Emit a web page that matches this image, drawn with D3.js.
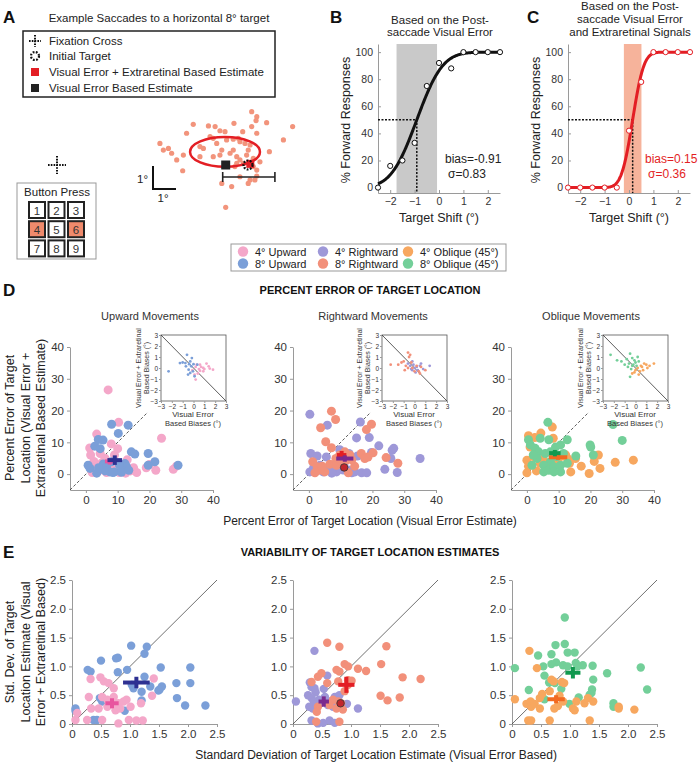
<!DOCTYPE html>
<html><head><meta charset="utf-8">
<script src="https://cdn.jsdelivr.net/npm/d3@7"></script>
<style>body{margin:0;background:#fff} svg{display:block;font-family:Arial,"Liberation Sans",sans-serif}</style>
</head><body><svg id="c" width="699" height="762"></svg>
<script>
// ---------------- DATA ----------------
// Panel A: example saccade end points (degrees relative to the 8° target)
const saccadeX = [0.16,0.38,0.35,0.81,1.94,-2.38,-1.72,-1.43,-0.61,0.16,-1.22,-1.0,-2.67,-0.23,0.38,1.54,-3.83,-3.46,-3.68,-3.32,-3.1,-2.81,-2.84,-2.09,-1.94,-1.65,-1.51,-1.36,-1.14,-0.93,-0.64,-0.42,-0.35,-0.13,0.09,0.01,-0.64,-0.78,-0.49,-0.35,-0.2,0.23,-0.06,0.52,0.93,-0.35,0.09,0.3,0.38,-1.14,-0.71,0.01,-0.97,-2.09,-1.51,-1.22,-0.49,-0.57,0.23,0.38];
const saccadeY = [2.32,2.1,1.93,1.84,1.67,1.77,1.7,1.67,1.81,1.67,1.49,1.45,1.38,1.45,1.38,1.09,0.94,0.72,0.65,0.51,0.22,0.43,-0.25,0.8,0.72,1.23,1.16,0.94,0.65,1.09,1.12,1.16,1.01,0.94,0.87,0.65,0.65,0.51,0.36,0.22,0.07,0.29,0.43,0.14,0.58,-0.51,-0.65,-0.65,-0.48,-0.8,-0.94,-0.8,-1.84,0.36,0.36,0.43,0.07,-0.07,-0.07,-0.22];
const visualEstimate = [-0.97, 0];
const combinedEstimate = [0.1, 0.05];
const ellipseA = {cx:-1.0, cy:0.57, rx:1.52, ry:0.65};
const bracketA = [-1.1, 1.17];
const buttons = ["1","2","3","4","5","6","7","8","9"];
const pressedButtons = ["4","6"];

// Panels B & C: psychometric data
const targetShift = [-2.5,-2,-1.5,-1,-0.5,0,0.5,1,1.5,2,2.5];
const fwdVisual   = [0,16,20,33,75,92,88,100,100,100,100];
const fwdCombined = [0,0,0,0,0,42,78,100,100,100,100];
const fitVisual   = {bias:-0.91, sigma:0.83};
const fitCombined = {bias:0.15, sigma:0.36};
const shiftTicks = [-2,-1,0,1,2];
const pctTicks = [0,20,40,60,80,100];

// Legend
const legendNames = ["4° Upward","8° Upward","4° Rightward","8° Rightward","4° Oblique (45°)","8° Oblique (45°)"];
const legendColors = ["#f4a7c9","#7b9fd8","#9e98d8","#f2907a","#f7a75f","#73cf99"];

// Panel D: percent error (x: visual error estimate, y: visual+extraretinal)
const dUp4 = [[7,26.5],[10.3,16.3],[3.4,12.6],[23.8,11.3],[1.2,8.2],[1.5,6],[2.5,4],[3,2.5],[4,1],[5,3.5],[6,5],[7.5,2],[8,9.5],[9,6],[9.5,1.5],[10.5,0.5],[11,3],[12,2],[13,4.5],[14,1],[15,2],[16,0.5],[19,2],[20,3],[22,1.2],[27.5,1.5],[28.5,2.5],[2,0.5],[4.5,6.5],[10,8],[6.5,0.5],[12.5,0.3]];
const dUp8 = [[8.1,15.7],[13.3,15.4],[10.2,12.8],[3.9,10.9],[5.4,10.7],[2.8,8.8],[4.5,8],[14.3,7],[15.4,6.3],[19.6,6.5],[21.7,3.9],[19.6,2.8],[29,2.8],[0.7,2.8],[1.3,1.8],[3.4,0.3],[5.5,3.2],[6.5,2.2],[8,3.9],[9,0.7],[11.2,1.2],[12.3,3.3],[12.8,2.3],[11.2,0.6],[7.5,0.7],[6,1],[4,2],[10.5,3],[13.5,1.2],[8.5,0.5]];
const dRight4 = [[0.3,18.8],[5.8,15.4],[16.2,16.4],[15,11.4],[19,11.5],[22,8.9],[0.6,6.5],[2.6,5.7],[5.5,5.4],[9.7,7.7],[15.3,5.7],[19.7,6.8],[26.2,7.5],[26.7,8.1],[25.8,4.9],[35,4.9],[23.9,1.5],[27.8,0.5],[0.3,0.7],[1.4,1.8],[2.9,1.3],[4.5,0.7],[6.1,1.3],[6.6,2.3],[8.7,0.7],[10.8,1.3],[12.4,1.3],[13.5,0.4],[14.5,0.7],[16.6,0.4],[18.2,0.4],[11.3,3.9],[12.6,6.5],[9.7,1.8],[7.2,0.3],[3.5,2.8]];
const dRight8 = [[7.1,19.8],[8.4,17.2],[3.7,14.6],[18.1,14],[19.7,15.7],[5.3,10.2],[7.1,8.3],[1.2,3.9],[2.6,2.3],[3.5,1.3],[1.9,0.4],[5,0.7],[6.6,3.1],[8.5,4.9],[9.7,6],[10.8,5.4],[11.8,4.4],[12.9,6],[14.4,2.5],[12.4,0.4],[16.5,6.5],[17.6,4.9],[18.6,5.4],[20.2,6.7],[24.3,5.2],[28,3.4],[8.7,2.8],[10.2,3.9],[11.3,7],[4.2,2.5],[13.5,4.5]];
const dObl4 = [[0.5,12.1],[4.4,12.9],[8,14.8],[1,8.5],[8.3,11.3],[0,4.4],[0.5,2.5],[0,0.4],[2.1,5.5],[4.2,3.4],[5.1,4.7],[10.6,5.5],[12.7,5],[13.4,3.4],[13.8,0.7],[15.3,4.9],[17.1,2.5],[19.6,0.2],[21.2,4],[22.5,6],[23,1.8],[27.8,3.7],[33.5,4.4],[6.3,2.8],[12.2,6],[3,1],[9.5,3.9],[2.5,11.5]];
const dObl8 = [[6.6,16.3],[27.1,15.6],[30,10.6],[12.7,10.8],[4.2,11.3],[6.9,10.8],[19.9,9.2],[20.1,8.5],[20.9,6],[15.4,5.7],[0.5,10.8],[1.1,9.2],[2.6,8.1],[3.7,7],[5.8,6.5],[7.4,7],[9,8.5],[10.6,9.2],[9.5,5.5],[7.4,3.9],[5.3,2.8],[5.3,0.7],[6.9,1.2],[8.5,2.3],[10.6,2.8],[12.7,3.4],[10.6,0.7],[8.5,0.7],[1.6,2.8],[3.2,4.9],[2,6],[11.5,6.5]];
// means: [x, y, xErr, yErr]
const dUpMeans = [[7.5,4.0,1.5,1.0],[9.1,4.4,2.3,1.5]];
const dRightMeans = [[10.3,6.0,1.5,1.3],[11.3,4.9,2.7,1.0]];
const dOblMeans = [[9.8,5.3,2.9,0.8],[8.8,6.6,1.8,1.0]];
const dExample = [11.1, 2.1];

// Insets: biases (°)
const inUp4 = [[0.9,0],[1.4,0.15],[1.8,-0.15],[0.2,-1.05],[0.6,0.3],[0.5,-0.1],[0.9,-0.3],[1.2,0.4],[0.2,0.1],[0.4,-0.5],[-0.1,-0.2],[0.7,0.1],[1.0,-0.1],[0.3,0.3],[0.1,-0.6],[1.5,-0.05],[0.6,-0.25]];
const inUp8 = [[-2.3,-0.3],[-1.25,0.45],[-0.6,1.2],[-0.3,0.6],[-0.7,0.15],[-0.2,0.15],[-0.05,-0.3],[-0.3,-0.45],[0.1,-0.75],[-0.45,-0.15],[-0.75,0.45],[0.35,0.3],[-1.0,0.5],[-0.15,0.9],[-0.5,-0.6],[0.0,0.35],[-0.4,0.35]];
const inRight4 = [[0.5,0.2],[1.4,0.2],[0.2,0.1],[-0.2,-0.2],[0.1,-0.4],[-0.4,0.2],[0.8,-0.1],[-0.1,0.3],[-0.3,-0.1],[0.0,0.0],[0.3,-0.2],[-0.6,0.4],[0.6,0.4],[-0.2,0.6]];
const inRight8 = [[-2.2,0.3],[-1.5,0.3],[-1.0,0.6],[-0.6,1.4],[-0.5,1.0],[-0.3,0.5],[0.0,-0.3],[0.4,-0.3],[0.6,0.1],[-0.8,0.2],[-1.2,0.5],[-0.4,1.2],[-0.9,-0.2],[0.2,0.2],[-0.2,0.0],[1.0,-0.2],[-0.6,0.0],[0.5,-0.5]];
const inObl4 = [[0.2,0.0],[0.6,0.1],[1.0,0.3],[1.3,0.2],[1.7,0.4],[0.4,-0.3],[-0.1,-0.4],[0.3,-0.6],[0.8,0.4],[0.5,0.2],[1.1,0.0],[0.0,-0.2],[-0.3,-0.5],[0.7,-0.2]];
const inObl8 = [[-2.3,1.2],[-1.7,0.7],[-1.3,0.6],[-0.5,1.3],[-0.3,0.9],[0.2,1.0],[-0.6,0.4],[-0.2,0.3],[0.0,0.5],[-0.4,-0.1],[0.1,0.2],[-0.8,0.8],[-0.5,-0.8],[-0.1,0.7],[-0.7,0.1],[0.3,0.6],[-0.3,0.2],[-1.0,0.3]];
const insetTicks = [-3,-2,-1,0,1,2,3];
const dTicks = [0,10,20,30,40];

// Panel E: standard deviations
const eUp4 = [[0.32,0.78],[0.49,0.81],[0.55,0.74],[0.63,0.71],[0.72,0.62],[0.29,0.47],[0.33,0.27],[0.52,0.47],[0.61,0.42],[0.72,0.47],[0.8,0.36],[0.83,0.27],[0.89,0.39],[0.94,0.42],[1.01,0.30],[0.72,0.33],[0.75,0.24],[0.61,0.30],[1.41,0.79],[1.38,0.49],[1.19,0.36],[0.26,0.07],[0.52,0.07],[0.8,0.01],[0.98,0.07],[1.11,0.06],[1.22,0.06],[0.06,0.07],[0.09,0.19],[0.46,0.27]];
const eUp8 = [[1.02,1.36],[1.29,1.34],[1.25,1.22],[0.5,1.1],[0.76,1.14],[0.79,1.15],[0.27,0.94],[0.32,0.91],[0.79,0.9],[0.95,0.94],[1.25,0.82],[1.53,0.98],[2.04,0.98],[1.8,0.71],[2.04,0.71],[1.35,0.65],[1.55,0.65],[1.51,0.6],[1.49,0.58],[1.2,0.56],[1.06,0.62],[0.48,0.45],[0.52,0.39],[1.81,0.45],[1.95,0.32],[2.3,0.32],[1.2,0.41],[0.91,0.23],[0.06,0.27],[0.06,0.23],[0.37,0.07],[0.43,0.07],[1.03,0.68]];
const eRight4 = [[0.37,1.27],[0.59,0.84],[0.29,0.72],[0.32,0.64],[0.37,0.62],[0.39,0.55],[0.26,0.5],[0.32,0.45],[0.36,0.39],[0.28,0.3],[0.34,0.27],[0.41,0.33],[0.45,0.42],[0.55,0.47],[0.47,0.36],[0.6,0.33],[0.72,0.47],[0.8,0.5],[0.93,0.35],[1.12,0.27],[0.05,0.39],[0.32,0.06],[0.43,0.01],[0.52,0.02],[0.63,0.06],[0.72,0.02],[0.53,0.61],[0.63,0.39],[0.69,0.3]];
const eRight8 = [[0.59,1.41],[0.8,1.34],[1.61,1.35],[0.89,1.04],[0.95,1.0],[1.52,1.04],[1.12,0.96],[1.26,0.92],[0.75,0.94],[0.8,0.91],[0.49,0.88],[0.43,0.82],[0.32,0.73],[0.59,0.71],[0.78,0.74],[0.95,0.76],[1.01,0.75],[1.89,0.81],[2.2,0.78],[1.51,0.49],[1.63,0.41],[1.84,0.46],[0.43,0.3],[0.41,0.21],[0.69,0.42],[0.78,0.39],[0.86,0.25],[0.75,0.27],[0.83,0.36],[0.89,0.57],[0.4,0.04],[0.8,0.04],[0.95,0.68],[0.63,0.33]];
const eObl4 = [[0.3,1.27],[0.43,0.97],[0.05,0.43],[0.25,0.35],[0.32,0.39],[0.33,0.3],[0.39,0.35],[0.48,0.27],[0.48,0.45],[0.52,0.52],[0.65,0.57],[0.72,0.74],[0.68,0.77],[0.86,0.73],[0.9,0.71],[0.82,0.49],[0.73,0.27],[0.79,0.31],[0.88,0.39],[1.05,0.27],[1.08,0.24],[1.11,0.39],[1.31,0.45],[1.4,0.39],[1.25,0.36],[1.84,0.3],[1.84,0.27],[2.11,0.25],[0.28,0.06],[0.33,0.06],[0.65,0.06],[1.34,0.06]];
const eObl8 = [[0.91,1.85],[0.75,1.37],[0.91,1.39],[0.96,1.24],[1.08,1.24],[0.45,1.19],[0.68,1.21],[0.76,1.07],[0.68,1.04],[0.54,1.0],[0.88,1.02],[0.96,1.0],[1.1,1.06],[1.22,1.02],[1.13,1.0],[1.39,1.01],[0.56,0.84],[0.64,0.72],[0.74,0.71],[1.4,0.77],[1.64,0.88],[2.22,0.98],[2.33,0.6],[1.38,0.6],[1.37,0.54],[1.34,0.51],[1.15,0.46],[0.29,0.59],[0.05,0.97],[0.85,0.61],[1.75,0.36],[1.75,0.3],[0.99,0.35],[0.56,0.43]];
const eUpMeans = [[0.69,0.36,0.115,0.087],[1.11,0.72,0.23,0.1]];
const eRightMeans = [[0.92,0.68,0.14,0.14],[0.53,0.39,0.09,0.09]];
const eOblMeans = [[0.76,0.43,0.15,0.07],[1.05,0.89,0.13,0.1]];
const eExample = [0.82, 0.36];
const eTicks = [0,0.5,1.0,1.5,2.0,2.5];

// ---------------- DRAWING ----------------
const svg = d3.select("#c");
const C = {red:"#e31e24", salmon:"#f2907a", dark:"#222"};
function text(g, x, y, s, o = {}) {
  const t = g.append("text").attr("x", x).attr("y", y)
    .attr("font-size", o.size || 11).attr("text-anchor", o.anchor || "start")
    .attr("fill", o.fill || "#222").attr("font-weight", o.weight || "normal").text(s);
  if (o.rot) t.attr("transform", `rotate(-90,${x},${y})`);
  return t;
}
function styleAxis(g, size) {
  g.select(".domain").attr("stroke", "#9a9a9a");
  g.selectAll(".tick line").attr("stroke", "#9a9a9a");
  g.selectAll(".tick text").attr("fill", "#333").attr("font-size", size)
    .attr("font-family", 'Arial,"Liberation Sans",sans-serif');
}

// Panel labels
text(svg, 3, 23, "A", {size:17, weight:"bold", fill:"#111"});
text(svg, 330, 23, "B", {size:17, weight:"bold", fill:"#111"});
text(svg, 527, 23, "C", {size:17, weight:"bold", fill:"#111"});
text(svg, 3, 296, "D", {size:17, weight:"bold", fill:"#111"});
text(svg, 3, 558, "E", {size:17, weight:"bold", fill:"#111"});

// ===== Panel A =====
const gA = svg.append("g");
text(gA, 159, 22, "Example Saccades to a horizontal 8° target", {size:11.5, anchor:"middle"});
gA.append("rect").attr("x",23).attr("y",31).attr("width",252).attr("height",66)
  .attr("fill","none").attr("stroke","#222").attr("stroke-width",1.5);
function fixCross(g, cx, cy, h) {
  g.append("line").attr("x1",cx-h).attr("x2",cx+h).attr("y1",cy).attr("y2",cy)
    .attr("stroke","#111").attr("stroke-width",2).attr("stroke-dasharray","1.6,1.2");
  g.append("line").attr("x1",cx).attr("x2",cx).attr("y1",cy-h).attr("y2",cy+h)
    .attr("stroke","#111").attr("stroke-width",2).attr("stroke-dasharray","1.6,1.2");
}
function targetSym(g, cx, cy, r) {
  g.append("circle").attr("cx",cx).attr("cy",cy).attr("r",r).attr("fill","none")
    .attr("stroke","#111").attr("stroke-width",2.2).attr("stroke-dasharray","1.8,1.4");
}
const legA = [["Fixation Cross",41],["Initial Target",56],["Visual Error + Extraretinal Based Estimate",72],["Visual Error Based Estimate",88]];
fixCross(gA, 35, 41, 6);
targetSym(gA, 35, 56, 4);
gA.append("rect").attr("x",31).attr("y",68).attr("width",8).attr("height",8).attr("fill",C.red);
gA.append("rect").attr("x",31).attr("y",84).attr("width",8).attr("height",8).attr("fill",C.dark);
legA.forEach(d => text(gA, 49, d[1]+4, d[0], {size:11.5}));

fixCross(gA, 57, 165, 9);
// Button press
gA.append("rect").attr("x",17).attr("y",183).attr("width",79).attr("height",76)
  .attr("fill","#fff").attr("stroke","#999");
text(gA, 57, 196, "Button Press", {size:11.5, anchor:"middle"});
buttons.forEach((b, i) => {
  const col = i % 3, row = Math.floor(i / 3);
  const x = 29 + col * 19.5, y = 202 + row * 19.2;
  gA.append("rect").attr("x",x).attr("y",y).attr("width",16).attr("height",16)
    .attr("fill", pressedButtons.includes(b) ? "#ef8a6c" : "#fff")
    .attr("stroke","#222").attr("stroke-width",2);
  text(gA, x+8, y+12.5, b, {size:11.5, anchor:"middle", fill:"#333"});
});
// saccade scatter
const xA = d3.scaleLinear().domain([0,1]).range([248,271]);
const yA = d3.scaleLinear().domain([0,1]).range([165,142]);
gA.selectAll(".sac").data(saccadeX).join("circle")
  .attr("cx", d => xA(d)).attr("cy", (d,i) => yA(saccadeY[i])).attr("r",2.6).attr("fill","#f2947c");
gA.append("ellipse").attr("cx",xA(ellipseA.cx)).attr("cy",yA(ellipseA.cy))
  .attr("rx",xA(ellipseA.rx)-xA(0)).attr("ry",yA(0)-yA(ellipseA.ry))
  .attr("fill","none").attr("stroke",C.red).attr("stroke-width",2.5);
// bracket
const by = 177;
gA.append("line").attr("x1",xA(bracketA[0])).attr("x2",xA(bracketA[1])).attr("y1",by).attr("y2",by).attr("stroke","#222").attr("stroke-width",1.6);
bracketA.forEach(v => gA.append("line").attr("x1",xA(v)).attr("x2",xA(v)).attr("y1",by-5).attr("y2",by+5).attr("stroke","#222").attr("stroke-width",1.6));
gA.append("rect").attr("x",xA(visualEstimate[0])-4.5).attr("y",yA(visualEstimate[1])-4.5).attr("width",9).attr("height",9).attr("fill",C.dark);
gA.append("rect").attr("x",xA(combinedEstimate[0])-4).attr("y",yA(combinedEstimate[1])-4).attr("width",8).attr("height",8).attr("fill",C.red);
targetSym(gA, xA(0), yA(0), 4.5);
// scale bar
gA.append("path").attr("d",`M${153},${166}V${189}H${176}`).attr("fill","none").attr("stroke","#111").attr("stroke-width",2);
text(gA, 148, 183, "1°", {size:11.5, anchor:"end"});
text(gA, 163, 202, "1°", {size:11.5, anchor:"middle"});

// ===== Panels B & C =====
function erf(x) {
  const s = Math.sign(x); x = Math.abs(x);
  const t = 1/(1+0.3275911*x);
  const y = 1-(((((1.061405429*t-1.453152027)*t)+1.421413741)*t-0.284496736)*t+0.254829592)*t*Math.exp(-x*x);
  return s*y;
}
function psy(left, data, fit, color, boxColor, titleLines, titleY, statX, statFill, statSize) {
  const g = svg.append("g");
  const x = d3.scaleLinear().domain([-2.5,2.5]).range([left, left+122]);
  const y = d3.scaleLinear().domain([-4,106]).range([193,44]);
  titleLines.forEach((s,i) => text(g, left+62, titleY[i], s, {size:11.5, anchor:"middle"}));
  g.append("rect").attr("x",x(fit.bias-fit.sigma)).attr("y",44).attr("width",x(fit.bias+fit.sigma)-x(fit.bias-fit.sigma)).attr("height",149).attr("fill",boxColor);
  const xa = g.append("g").attr("transform","translate(0,193)").call(d3.axisBottom(x).tickValues(shiftTicks).tickFormat(d3.format("d")).tickSize(-3).tickPadding(5).tickSizeOuter(0));
  styleAxis(xa, 10.5);
  const ya = g.append("g").attr("transform",`translate(${left},0)`).call(d3.axisLeft(y).tickValues(pctTicks).tickFormat(d3.format("d")).tickSize(-3).tickPadding(5).tickSizeOuter(0));
  styleAxis(ya, 10.5);
  g.append("path").attr("d",`M${x(-2.5)},${y(50)}H${x(fit.bias)}V${193}`).attr("fill","none")
    .attr("stroke","#111").attr("stroke-width",1.5).attr("stroke-dasharray","2,1.5");
  const xs = d3.range(-2.5, 2.501, 0.02);
  g.append("path").datum(xs).attr("fill","none").attr("stroke",color).attr("stroke-width",3)
    .attr("d", d3.line().x(d => x(d)).y(d => y(50*(1+erf((d-fit.bias)/(fit.sigma*Math.SQRT2)))))) ;
  g.selectAll(".pt").data(data).join("circle").attr("cx",(d,i) => x(targetShift[i])).attr("cy",d => y(d))
    .attr("r",2.6).attr("fill","#fff").attr("stroke",color).attr("stroke-width",1);
  text(g, left-28, 120, "% Forward Responses", {size:12.5, anchor:"middle", rot:true});
  text(g, left+61, 222, "Target Shift (°)", {size:12.5, anchor:"middle"});
  text(g, statX, 163, `bias=${fit.bias}`, {size:statSize, fill:statFill});
  text(g, statX+22, 177.5, `σ=${fit.sigma}`, {size:statSize, fill:statFill, anchor:"middle"});
}
psy(378, fwdVisual, fitVisual, "#111", "#c9c9c9", ["Based on the Post-","saccade Visual Error"], [24,36], 445, "#222", 12);
psy(568, fwdCombined, fitCombined, C.red, "#f6b39b", ["Based on the Post-","saccade Visual Error","and Extraretinal Signals"], [10,23,36], 645, C.red, 12);

// ===== Legend =====
const gL = svg.append("g");
gL.append("rect").attr("x",231).attr("y",244).attr("width",275).attr("height",27).attr("fill","#fff").attr("stroke","#999");
const legCols = [243, 323, 408];
legendNames.forEach((n, i) => {
  const cx = legCols[Math.floor(i/2)], cy = 251.5 + (i%2)*12;
  gL.append("circle").attr("cx",cx).attr("cy",cy).attr("r",5.2).attr("fill",legendColors[i]);
  text(gL, cx+12, cy+4, n, {size:11});
});

// ===== Panel D =====
text(svg, 370, 294, "PERCENT ERROR OF TARGET LOCATION", {size:11, weight:"bold", anchor:"middle", fill:"#111"});
text(svg, 370, 525, "Percent Error of Target Location (Visual Error Estimate)", {size:12, anchor:"middle"});
["Percent Error of Target","Location (Visual Error +","Extraretinal Based Estimate)"].forEach((s,i) =>
  text(svg, 14+i*15.5, 418, s, {size:12.5, anchor:"middle", rot:true}));

function dPanel(left, title, s4, s8, c4, c8, means, meanColors, iLeft, i4, i8, example) {
  const g = svg.append("g");
  const x = d3.scaleLinear().domain([-5,40]).range([left, left+143]);
  const y = d3.scaleLinear().domain([-5,40]).range([490, 347]);
  text(g, left+80, 320, title, {size:11, anchor:"middle", fill:"#333"});
  const xa = g.append("g").attr("transform","translate(0,490)").call(d3.axisBottom(x).tickValues(dTicks).tickSize(3).tickPadding(3).tickSizeOuter(0));
  styleAxis(xa, 11.5);
  const ya = g.append("g").attr("transform",`translate(${left},0)`).call(d3.axisLeft(y).tickValues(dTicks).tickSize(3).tickPadding(3).tickSizeOuter(0));
  styleAxis(ya, 11.5);
  g.append("line").attr("x1",x(-5)).attr("y1",y(-5)).attr("x2",x(19.5)).attr("y2",y(19.5))
    .attr("stroke","#333").attr("stroke-width",0.8).attr("stroke-dasharray","3,2");
  g.selectAll(".a").data(s4).join("circle").attr("cx",d=>x(d[0])).attr("cy",d=>y(d[1])).attr("r",4.5).attr("fill",c4);
  g.selectAll(".b").data(s8).join("circle").attr("cx",d=>x(d[0])).attr("cy",d=>y(d[1])).attr("r",4.5).attr("fill",c8);
  means.forEach((m,i) => {
    g.append("line").attr("x1",x(m[0]-m[2])).attr("x2",x(m[0]+m[2])).attr("y1",y(m[1])).attr("y2",y(m[1])).attr("stroke",meanColors[i]).attr("stroke-width",4);
    g.append("line").attr("x1",x(m[0])).attr("x2",x(m[0])).attr("y1",y(m[1]-m[3])).attr("y2",y(m[1]+m[3])).attr("stroke",meanColors[i]).attr("stroke-width",4);
  });
  if (example) g.append("circle").attr("cx",x(example[0])).attr("cy",y(example[1])).attr("r",3.8).attr("fill","#c1272d").attr("stroke","#333").attr("stroke-width",0.8);
  // inset
  const ix = d3.scaleLinear().domain([-3,3]).range([iLeft, iLeft+65]);
  const iy = d3.scaleLinear().domain([-3,3]).range([401, 335]);
  g.append("rect").attr("x",iLeft).attr("y",335).attr("width",65).attr("height",66).attr("fill","#fff").attr("stroke","#555").attr("stroke-width",0.8);
  const ixa = g.append("g").attr("transform","translate(0,401)").call(d3.axisBottom(ix).tickValues(insetTicks).tickFormat(d3.format("d")).tickSize(2).tickPadding(1).tickSizeOuter(0));
  styleAxis(ixa, 6.5); ixa.select(".domain").remove();
  const iya = g.append("g").attr("transform",`translate(${iLeft},0)`).call(d3.axisLeft(iy).tickValues(insetTicks).tickFormat(d3.format("d")).tickSize(2).tickPadding(1).tickSizeOuter(0));
  styleAxis(iya, 6.5); iya.select(".domain").remove();
  g.append("line").attr("x1",ix(-3)).attr("y1",iy(3)).attr("x2",ix(3)).attr("y2",iy(-3)).attr("stroke","#333").attr("stroke-width",0.8);
  g.selectAll(".ia").data(i4).join("circle").attr("cx",d=>ix(d[0])).attr("cy",d=>iy(d[1])).attr("r",1.4).attr("fill",c4);
  g.selectAll(".ib").data(i8).join("circle").attr("cx",d=>ix(d[0])).attr("cy",d=>iy(d[1])).attr("r",1.4).attr("fill",c8);
  text(g, iLeft-20, 368, "Visual Error + Extraretinal", {size:7, anchor:"middle", rot:true, fill:"#333"});
  text(g, iLeft-12, 368, "Based Biases (°)", {size:7, anchor:"middle", rot:true, fill:"#333"});
  text(g, iLeft+32, 417, "Visual Error", {size:8, anchor:"middle", fill:"#333"});
  text(g, iLeft+32, 426, "Based Biases (°)", {size:7.5, anchor:"middle", fill:"#333"});
}
dPanel(70, "Upward Movements", dUp4, dUp8, legendColors[0], legendColors[1], dUpMeans, ["#e8559f","#2e3192"], 161, inUp4, inUp8, null);
dPanel(293, "Rightward Movements", dRight4, dRight8, legendColors[2], legendColors[3], dRightMeans, [C.red,"#7b2a8e"], 382, inRight4, inRight8, dExample);
dPanel(511, "Oblique Movements", dObl4, dObl8, legendColors[4], legendColors[5], dOblMeans, ["#f26a21","#11994f"], 603, inObl4, inObl8, null);

// ===== Panel E =====
text(svg, 370, 556, "VARIABILITY OF TARGET LOCATION ESTIMATES", {size:11, weight:"bold", anchor:"middle", fill:"#111"});
text(svg, 376, 759, "Standard Deviation of Target Location Estimate (Visual Error Based)", {size:12, anchor:"middle"});
["Std. Dev. of Target","Location Estimate (Visual","Error + Extraretinal Based)"].forEach((s,i) =>
  text(svg, 14+i*15.5, 652, s, {size:12.5, anchor:"middle", rot:true}));
function ePanel(left, s4, s8, c4, c8, means, meanColors, example, order8First) {
  const g = svg.append("g");
  const x = d3.scaleLinear().domain([0,2.5]).range([left, left+145]);
  const y = d3.scaleLinear().domain([0,2.5]).range([724, 580]);
  const fmt = d => d === 0 ? "0" : d.toFixed(1);
  const xa = g.append("g").attr("transform","translate(0,724)").call(d3.axisBottom(x).tickValues(eTicks).tickFormat(fmt).tickSize(3).tickPadding(3).tickSizeOuter(0));
  styleAxis(xa, 11.5);
  const ya = g.append("g").attr("transform",`translate(${left},0)`).call(d3.axisLeft(y).tickValues(eTicks).tickFormat(fmt).tickSize(3).tickPadding(3).tickSizeOuter(0));
  styleAxis(ya, 11.5);
  g.append("line").attr("x1",x(0)).attr("y1",y(0)).attr("x2",x(2.5)).attr("y2",y(2.5)).attr("stroke","#333").attr("stroke-width",0.7);
  const sets = order8First ? [[s8,c8],[s4,c4]] : [[s4,c4],[s8,c8]];
  sets.forEach(([s,c]) => g.append("g").selectAll("circle").data(s).join("circle")
    .attr("cx",d=>x(d[0])).attr("cy",d=>y(d[1])).attr("r",4.2).attr("fill",c));
  means.forEach((m,i) => {
    g.append("line").attr("x1",x(m[0]-m[2])).attr("x2",x(m[0]+m[2])).attr("y1",y(m[1])).attr("y2",y(m[1])).attr("stroke",meanColors[i]).attr("stroke-width",4);
    g.append("line").attr("x1",x(m[0])).attr("x2",x(m[0])).attr("y1",y(m[1]-m[3])).attr("y2",y(m[1]+m[3])).attr("stroke",meanColors[i]).attr("stroke-width",4);
  });
  if (example) g.append("circle").attr("cx",x(example[0])).attr("cy",y(example[1])).attr("r",3.8).attr("fill","#c1272d").attr("stroke","#333").attr("stroke-width",0.8);
}
ePanel(72, eUp4, eUp8, legendColors[0], legendColors[1], eUpMeans, ["#e8559f","#2e3192"], null, true);
ePanel(293, eRight4, eRight8, legendColors[2], legendColors[3], eRightMeans, [C.red,"#7b2a8e"], eExample, false);
ePanel(512, eObl4, eObl8, legendColors[4], legendColors[5], eOblMeans, ["#f26a21","#11994f"], null, true);
</script></body></html>
